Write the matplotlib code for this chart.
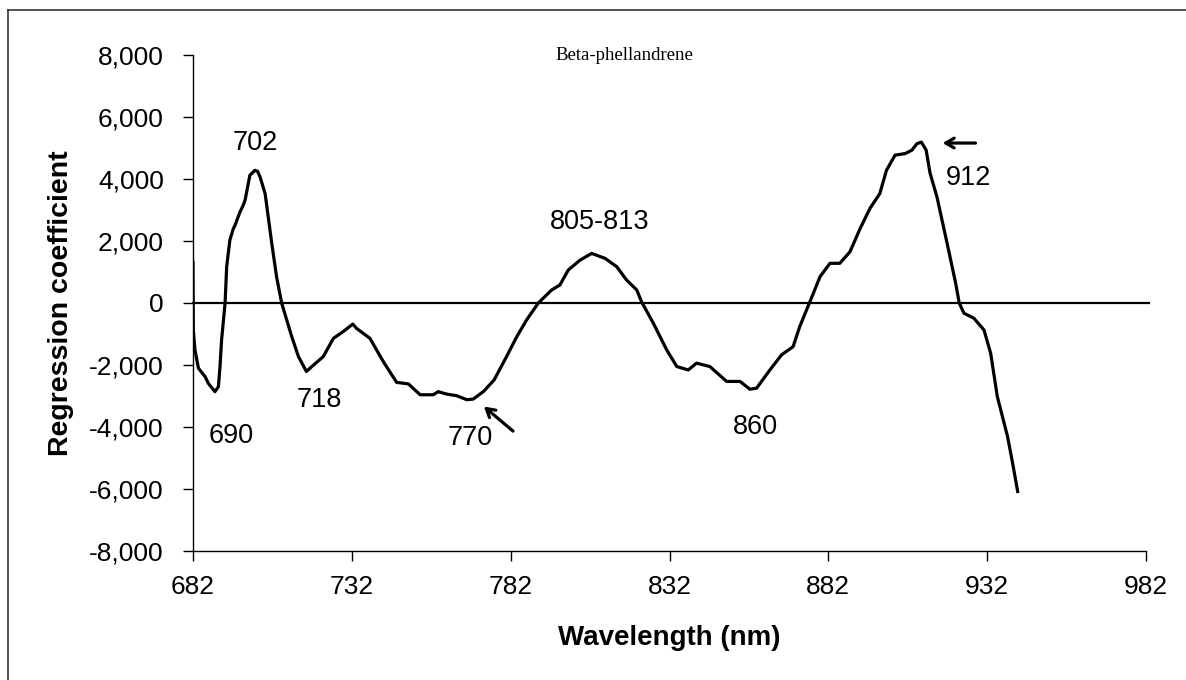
import numpy as np
import matplotlib
matplotlib.use("Agg")
import matplotlib.pyplot as plt
from matplotlib.lines import Line2D
from matplotlib.ticker import FuncFormatter

# wavelength (nm) and regression coefficient
wavelength = [682.0, 682.1, 682.6, 683.7, 685.2, 685.8, 686.8, 688.9, 690.0, 690.5,
              691.0, 692.1, 692.6, 693.6, 694.7, 695.2, 696.8, 697.8, 698.4, 699.9,
              701.5, 702.3, 703.1, 704.7, 706.8, 708.3, 709.9, 713.1, 715.2, 717.7,
              719.4, 723.0, 726.2, 729.3, 732.3, 733.5, 737.7, 741.9, 746.1, 749.8,
              753.5, 757.6, 759.2, 761.9, 765.0, 768.2, 770.2, 773.5, 776.8, 780.7,
              783.9, 787.0, 790.7, 794.9, 797.5, 800.1, 803.8, 807.5, 811.7, 815.4,
              818.5, 821.7, 823.2, 826.9, 831.1, 834.3, 837.9, 840.5, 844.7, 850.0,
              854.2, 857.3, 859.4, 863.6, 867.3, 870.9, 873.0, 876.2, 879.4, 882.5,
              885.6, 888.8, 892.0, 895.1, 898.2, 900.3, 903.0, 906.2, 908.3, 909.9,
              911.3, 912.8, 914.0, 916.2, 919.4, 922.1, 923.2, 924.7, 927.8, 931.0,
              933.1, 935.2, 938.4, 940.0, 941.6]
coefficient = [1300, -870, -1500, -2100, -2300, -2370, -2590, -2860, -2700, -2050,
               -1190, 0, 1170, 2030, 2400, 2500, 2940, 3150, 3320, 4120,
               4280, 4250, 4070, 3530, 1920, 850, 0, -1090, -1730, -2210,
               -2050, -1730, -1140, -920, -680, -820, -1140, -1890, -2560, -2610,
               -2960, -2960, -2860, -2940, -2990, -3120, -3100, -2850, -2480, -1730,
               -1090, -550, 0, 420, 580, 1060, 1380, 1600, 1440, 1170,
               740, 420, 40, -650, -1510, -2050, -2160, -1940, -2050, -2530,
               -2530, -2780, -2750, -2160, -1670, -1410, -760, 40, 850, 1280,
               1280, 1650, 2400, 3050, 3530, 4280, 4770, 4820, 4930, 5140,
               5190, 4930, 4200, 3420, 1920, 630, 0, -330, -490, -870,
               -1620, -3020, -4300, -5160, -6080]

x_ticks = [682, 732, 782, 832, 882, 932, 982]
y_ticks = [-8000, -6000, -4000, -2000, 0, 2000, 4000, 6000, 8000]

# peak labels: text, (x, y)
peak_labels = [("702", 701.5, 5150), ("690", 694.0, -4280), ("718", 721.7, -3120),
               ("770", 769.2, -4350), ("805-813", 810.1, 2610), ("860", 859.2, -3990),
               ("912", 926.0, 4020)]

plt.rcParams["font.family"] = ["Liberation Sans", "DejaVu Sans"]

fig = plt.figure(figsize=(11.86, 6.8), dpi=100)
ax = fig.add_axes([193 / 1186, 1 - 551 / 680, (1146 - 193) / 1186, (551 - 55) / 680])

ax.plot(wavelength, coefficient, color="black", lw=2.3, solid_joinstyle="round")
ax.plot([682, 983], [0, 0], color="black", lw=1.6, clip_on=False)

ax.set_xlim(682, 982)
ax.set_ylim(-8000, 8000)
ax.set_xticks(x_ticks)
ax.set_yticks(y_ticks)
ax.yaxis.set_major_formatter(FuncFormatter(lambda v, p: f"{int(v):,}"))
ax.tick_params(direction="out", length=7, width=1.0, labelsize=19)
ax.tick_params(axis="y", pad=14)
ax.tick_params(axis="x", pad=10)
for s in ["top", "right"]:
    ax.spines[s].set_visible(False)
for s in ["left", "bottom"]:
    ax.spines[s].set_linewidth(1.0)

ax.set_xlabel("Wavelength (nm)", fontsize=20, fontweight="bold", labelpad=19)
ax.set_ylabel("Regression coefficient", fontsize=20.5, fontweight="bold", labelpad=11)

ax.text(817.7, 7980, "Beta-phellandrene", family="Liberation Serif", fontsize=13.5,
        ha="center", va="center")

for txt, lx, ly in peak_labels:
    ax.text(lx, ly, txt, fontsize=19.5, ha="center", va="center")

arrow = dict(arrowstyle="->,head_length=0.6,head_width=0.35", color="black", lw=2.3)
ax.annotate("", xy=(772.9, -3280), xytext=(783.4, -4190), arrowprops=arrow)
ax.annotate("", xy=(917.1, 5160), xytext=(929.2, 5160), arrowprops=arrow)

# outer frame (left and top edges visible)
fig.add_artist(Line2D([8 / 1186, 8 / 1186], [0, 1 - 10 / 680], color="#333333", lw=1.2))
fig.add_artist(Line2D([8 / 1186, 1], [1 - 10 / 680, 1 - 10 / 680], color="#333333", lw=1.2))

fig.savefig("out.png", dpi=100)
